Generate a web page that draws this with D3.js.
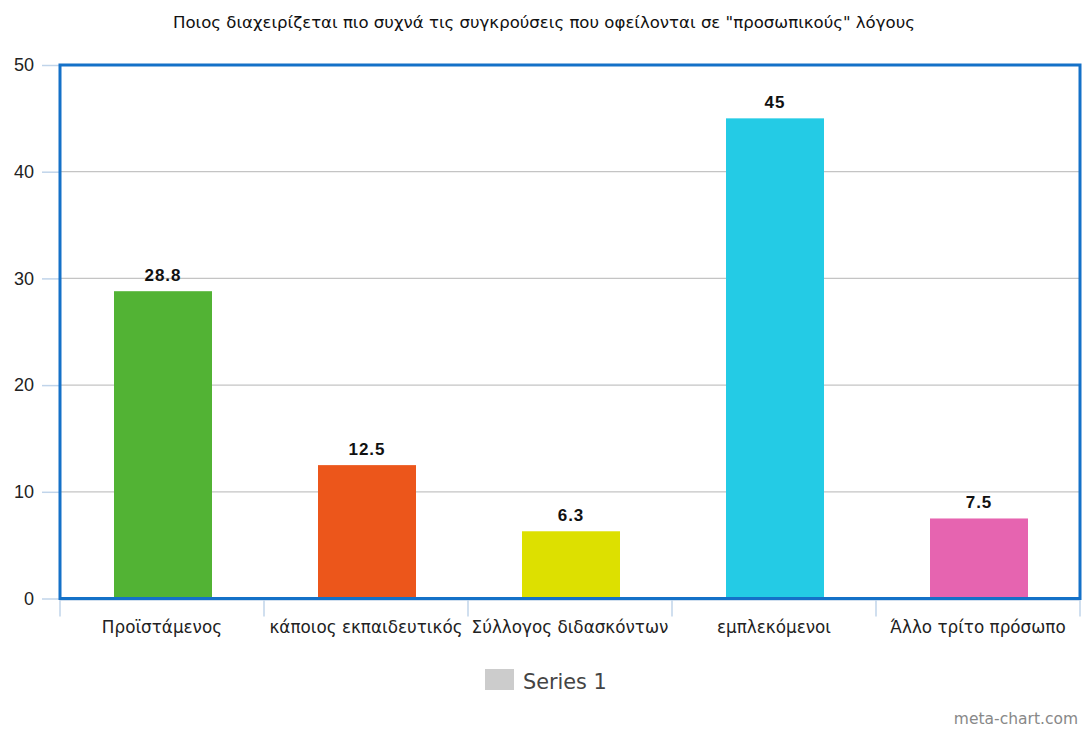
<!DOCTYPE html>
<html>
<head>
<meta charset="utf-8">
<script src="https://cdn.jsdelivr.net/npm/d3@7/dist/d3.min.js"></script>
<style>
  html, body { margin: 0; padding: 0; background: #fff; }
  svg { display: block; }
</style>
</head>
<body>
<svg id="chart" width="1083" height="729"></svg>
<script>
const title = 'Ποιος διαχειρίζεται πιο συχνά τις συγκρούσεις που οφείλονται σε "προσωπικούς" λόγους';
const categories = ["Προϊστάμενος", "κάποιος εκπαιδευτικός", "Σύλλογος διδασκόντων", "εμπλεκόμενοι", "Άλλο τρίτο πρόσωπο"];
const values = [28.8, 12.5, 6.3, 45, 7.5];
const valueLabels = ["28.8", "12.5", "6.3", "45", "7.5"];
const colors = ["#52b334", "#ec561b", "#dde000", "#24cbe5", "#e664b0"];
const yTicks = [0, 10, 20, 30, 40, 50];
const seriesName = "Series 1";
const watermark = "meta-chart.com";

const svg = d3.select("#chart");
const font = "Liberation Sans, Arial, sans-serif";
const dfont = "DejaVu Sans, sans-serif";
const plotL = 60, plotR = 1080, plotT = 65, plotB = 598.5;

const x = d3.scaleBand().domain(categories).range([plotL, plotR]).paddingInner(0).paddingOuter(0);
const y = d3.scaleLinear().domain([0, 50]).range([plotB, plotT]);

// title
svg.append("text")
  .attr("x", 544).attr("y", 28)
  .attr("text-anchor", "middle")
  .attr("font-family", dfont).attr("font-size", 16.3).attr("fill", "#111")
  .attr("textLength", 742).attr("lengthAdjust", "spacingAndGlyphs")
  .text(title);

// gridlines
svg.append("g").selectAll("line").data(yTicks.filter(d => d > 0 && d < 50)).join("line")
  .attr("x1", plotL).attr("x2", plotR)
  .attr("y1", d => y(d)).attr("y2", d => y(d))
  .attr("stroke", "#c4c4c4").attr("stroke-width", 1.2);

// y axis
const yAxis = svg.append("g").attr("transform", `translate(${plotL},0)`)
  .call(d3.axisLeft(y).tickValues(yTicks).tickSize(18).tickPadding(8).tickFormat(d3.format("d")));
yAxis.select(".domain").remove();
yAxis.selectAll(".tick line").attr("stroke", "#c0d4ea").attr("stroke-width", 1.5);
yAxis.selectAll(".tick text").attr("font-family", font).attr("font-size", 18).attr("fill", "#222");

// x axis ticks at band boundaries
const boundaries = categories.map(c => x(c)).concat([x(categories[categories.length - 1]) + x.bandwidth()]);
svg.append("g").selectAll("line").data(boundaries).join("line")
  .attr("x1", d => d).attr("x2", d => d)
  .attr("y1", plotB).attr("y2", plotB + 18)
  .attr("stroke", "#c0d4ea").attr("stroke-width", 1.5);
svg.append("line")
  .attr("x1", plotL).attr("x2", plotR).attr("y1", plotB + 1.5).attr("y2", plotB + 1.5)
  .attr("stroke", "#c0d4ea").attr("stroke-width", 1.5);

svg.append("g").selectAll("text").data(categories).join("text")
  .attr("x", d => x(d) + x.bandwidth() / 2)
  .attr("y", 633)
  .attr("text-anchor", "middle")
  .attr("font-family", dfont).attr("font-size", 16.8).attr("fill", "#222")
  .text(d => d);

// bars
const barW = 98;
svg.append("g").selectAll("rect").data(values).join("rect")
  .attr("x", (d, i) => x(categories[i]) + x.bandwidth() / 2 - barW / 2 + 1)
  .attr("y", d => y(d))
  .attr("width", barW)
  .attr("height", d => plotB - y(d))
  .attr("fill", (d, i) => colors[i]);

// value labels
svg.append("g").selectAll("text").data(values).join("text")
  .attr("x", (d, i) => x(categories[i]) + x.bandwidth() / 2 + 1)
  .attr("y", d => y(d) - 10)
  .attr("text-anchor", "middle")
  .attr("font-family", font).attr("font-size", 17).attr("font-weight", "bold").attr("fill", "#111")
  .attr("letter-spacing", 1)
  .text((d, i) => valueLabels[i]);

// frame
svg.append("rect")
  .attr("x", plotL).attr("y", plotT)
  .attr("width", plotR - plotL).attr("height", plotB - plotT)
  .attr("fill", "none").attr("stroke", "#1471c8").attr("stroke-width", 3);

// legend
svg.append("rect").attr("x", 485).attr("y", 669).attr("width", 29).attr("height", 21).attr("fill", "#cccccc");
svg.append("text").attr("x", 523).attr("y", 689)
  .attr("font-family", dfont).attr("font-size", 20.8).attr("fill", "#444")
  .text(seriesName);

// watermark
svg.append("text").attr("x", 1078).attr("y", 724)
  .attr("text-anchor", "end")
  .attr("font-family", dfont).attr("font-size", 15.5).attr("fill", "#888")
  .text(watermark);
</script>
</body>
</html>
